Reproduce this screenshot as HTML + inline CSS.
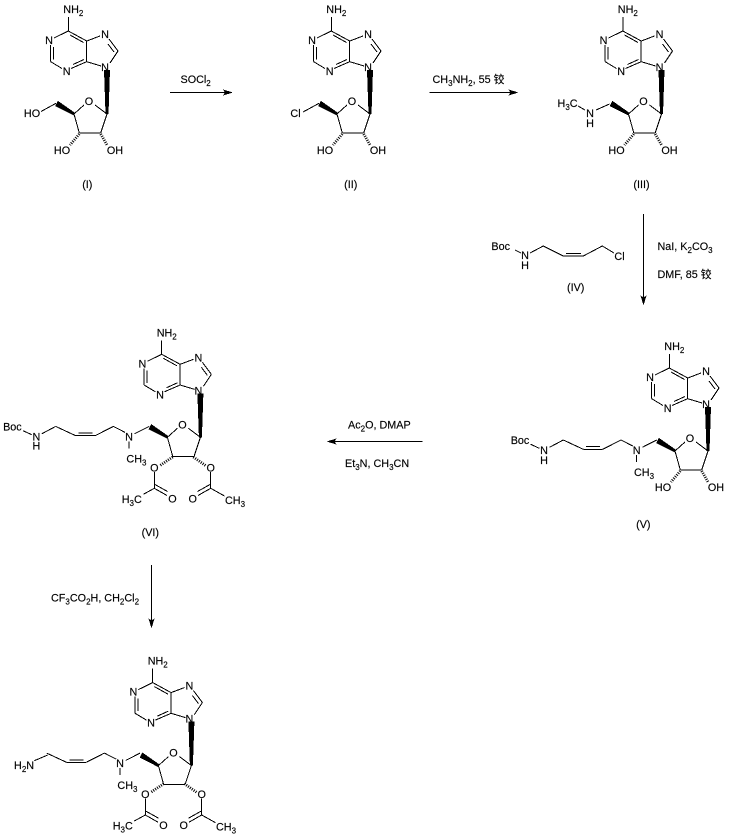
<!DOCTYPE html>
<html><head><meta charset="utf-8"><style>
html,body{margin:0;padding:0;background:#fff}
svg{display:block}
text{font-family:"Liberation Sans","Noto Sans CJK SC",sans-serif;font-size:10.8px;fill:#000;stroke:#000;stroke-width:.15}
.m{text-anchor:middle}
.s{font-size:8px}
line,polyline{stroke:#000;stroke-width:1;fill:none;shape-rendering:crispEdges}
polygon{fill:#000;stroke:none;shape-rendering:crispEdges}
line.h{stroke-width:2.8;stroke-dasharray:1 1.3;shape-rendering:auto}
</style></head><body>
<svg width="729" height="839" viewBox="0 0 729 839" xmlns="http://www.w3.org/2000/svg">
<defs>
<g id="core">
<line x1="68.3" y1="31" x2="68.3" y2="17"/>
<line x1="68.3" y1="31" x2="54" y2="38"/>
<line x1="50.7" y1="45" x2="50.7" y2="61.7"/>
<line x1="53.5" y1="47" x2="53.5" y2="59.5"/>
<line x1="50.7" y1="61.7" x2="62" y2="68.5"/>
<line x1="71" y1="68.5" x2="86.7" y2="61.7"/>
<line x1="73" y1="64.5" x2="84" y2="59.5"/>
<line x1="68.3" y1="31" x2="86.7" y2="41"/>
<line x1="70" y1="35" x2="83.5" y2="42.5"/>
<line x1="86.7" y1="41" x2="86.7" y2="61.7"/>
<line x1="86.7" y1="41" x2="100" y2="36"/>
<line x1="109" y1="39" x2="118" y2="51"/>
<line x1="108" y1="44" x2="114" y2="52"/>
<line x1="118" y1="51" x2="110" y2="63"/>
<line x1="101" y1="66" x2="86.7" y2="61.7"/>
<polygon points="105.5,114 108.5,114 110,70 104,70"/>
<line x1="107" y1="114" x2="95" y2="105"/>
<line x1="84" y1="105" x2="74" y2="114"/>
<line x1="74" y1="114" x2="79.3" y2="133"/>
<line x1="79.3" y1="133" x2="100.7" y2="133"/>
<line x1="100.7" y1="133" x2="107" y2="114"/>
<polygon points="74,115.5 74.5,112.5 57.8,100.8 55.2,106"/>
</g>
<g id="diol">
<line class="h" x1="79.3" y1="134" x2="70" y2="145"/>
<line class="h" x1="100.7" y1="134" x2="107" y2="145"/>
</g>
<g id="chainN">
<line x1="656.7" y1="440" x2="642.3" y2="447.3"/>
<line x1="632.7" y1="446" x2="621" y2="440"/>
<line x1="621" y1="440" x2="602.7" y2="449.3"/>
<line x1="602.7" y1="449.3" x2="583.3" y2="449.3"/>
<line x1="600" y1="446.7" x2="586" y2="446.7"/>
<line x1="583.3" y1="449.3" x2="563.3" y2="440"/>
<line x1="636.7" y1="455" x2="636.7" y2="462"/>
</g>
<g id="acet">
<line class="h" x1="172.7" y1="457" x2="160" y2="465.5"/>
<line class="h" x1="193.3" y1="457" x2="205.5" y2="465.5"/>
<line x1="154.3" y1="472" x2="154.3" y2="488.3"/>
<line x1="154.3" y1="488.3" x2="143.3" y2="494.3"/>
<line x1="154.3" y1="488.3" x2="167" y2="495.5"/>
<line x1="155" y1="484.5" x2="167.5" y2="491.5"/>
<line x1="210.7" y1="472" x2="210.7" y2="488.3"/>
<line x1="210.7" y1="488.3" x2="198" y2="495.5"/>
<line x1="210" y1="484.5" x2="197.5" y2="491.5"/>
<line x1="210.7" y1="488.3" x2="224.5" y2="496"/>
</g>
</defs>

<!-- I -->
<use href="#core"/><use href="#diol"/>
<g>
<text x="63.3" y="13">NH<tspan class="s" dy="3">2</tspan></text>
<text class="m" x="49" y="44">N</text><text class="m" x="66.7" y="75">N</text><text class="m" x="105" y="38">N</text><text class="m" x="105" y="71">N</text><text class="m" x="89" y="105">O</text>
<text class="m" x="62" y="154">HO</text><text class="m" x="115" y="154">OH</text>
<line x1="56" y1="103.3" x2="41" y2="111.5"/>
<text class="m" x="32" y="117">HO</text>
<text class="m" x="87.3" y="188">(I)</text>
</g>

<!-- Arrow 1 -->
<line x1="170" y1="92.5" x2="232" y2="92.5"/><polygon points="233,92.5 223,89.5 225,92.5 223,95.5"/>
<text x="180.5" y="83">SOCl<tspan class="s" dy="3">2</tspan></text>

<!-- II -->
<g transform="translate(263,0)"><use href="#core"/><use href="#diol"/>
<text x="63.3" y="13">NH<tspan class="s" dy="3">2</tspan></text>
<text class="m" x="49" y="44">N</text><text class="m" x="66.7" y="75">N</text><text class="m" x="105" y="38">N</text><text class="m" x="105" y="71">N</text><text class="m" x="89" y="105">O</text>
<text class="m" x="62" y="154">HO</text><text class="m" x="115" y="154">OH</text>
<line x1="56" y1="103.3" x2="40" y2="112"/>
<text class="m" x="32.5" y="117">Cl</text>
<text class="m" x="87.7" y="188">(II)</text>
</g>

<!-- Arrow 2 -->
<line x1="429.5" y1="92.5" x2="517" y2="92.5"/><polygon points="518.5,92.5 508.5,89.5 510.5,92.5 508.5,95.5"/>
<text x="432.5" y="83">CH<tspan class="s" dy="3">3</tspan><tspan dy="-3">NH</tspan><tspan class="s" dy="3">2</tspan><tspan dy="-3">, 55 铰</tspan></text>

<!-- III -->
<g transform="translate(554.5,0)"><use href="#core"/><use href="#diol"/>
<text x="63.3" y="13">NH<tspan class="s" dy="3">2</tspan></text>
<text class="m" x="49" y="44">N</text><text class="m" x="66.7" y="75">N</text><text class="m" x="105" y="38">N</text><text class="m" x="105" y="71">N</text><text class="m" x="89" y="105">O</text>
<text class="m" x="62" y="154">HO</text><text class="m" x="115" y="154">OH</text>
<line x1="55" y1="104" x2="41.5" y2="110"/>
<text class="m" x="35.5" y="117">N</text><text class="m" x="35.5" y="127">H</text>
<line x1="23.5" y1="106" x2="30.5" y2="110"/>
<text x="3" y="107">H<tspan class="s" dy="3">3</tspan><tspan dy="-3">C</tspan></text>
<text class="m" x="87" y="188">(III)</text>
</g>

<!-- IV -->
<text class="m" x="500.7" y="250">Boc</text>
<line x1="515" y1="250" x2="521" y2="253"/>
<text class="m" x="525" y="259">N</text><text class="m" x="525" y="269">H</text>
<polyline points="530,253 543.3,246 563.3,256 583.3,256 602.3,246 614,253"/>
<line x1="566" y1="253.5" x2="581" y2="253.5"/>
<text class="m" x="619.5" y="260">Cl</text>
<text class="m" x="575.7" y="291">(IV)</text>

<!-- Arrow 3 -->
<line x1="643.5" y1="214" x2="643.5" y2="304"/><polygon points="643.5,305.5 640.5,295.5 643.5,297.5 646.5,295.5"/>
<text x="657.5" y="250">NaI, K<tspan class="s" dy="3">2</tspan><tspan dy="-3">CO</tspan><tspan class="s" dy="3">3</tspan></text>
<text x="657.5" y="278">DMF, 85 铰</text>

<!-- V -->
<g transform="translate(601,337)"><use href="#core"/><use href="#diol"/>
<text x="63.3" y="13">NH<tspan class="s" dy="3">2</tspan></text>
<text class="m" x="49" y="44">N</text><text class="m" x="66.7" y="75">N</text><text class="m" x="105" y="38">N</text><text class="m" x="105" y="71">N</text><text class="m" x="89" y="105">O</text>
<text class="m" x="62" y="154">HO</text><text class="m" x="115" y="154">OH</text>
</g>
<use href="#chainN"/>
<line x1="563.3" y1="440" x2="549.5" y2="447.3"/>
<line x1="530.7" y1="444.3" x2="539.3" y2="448.3"/>
<text class="m" x="520" y="444">Boc</text>
<text class="m" x="544" y="454">N</text><text class="m" x="544" y="464">H</text>
<text class="m" x="636.7" y="454">N</text>
<text x="634" y="476">CH<tspan class="s" dy="3">3</tspan></text>
<text class="m" x="643.3" y="528">(V)</text>

<!-- Arrow 4 -->
<line x1="327.5" y1="441.5" x2="422.7" y2="441.5"/><polygon points="326.5,441.5 336.5,438.5 334.5,441.5 336.5,444.5"/>
<text x="348" y="428.5">Ac<tspan class="s" dy="3">2</tspan><tspan dy="-3">O, DMAP</tspan></text>
<text x="345" y="467">Et<tspan class="s" dy="3">3</tspan><tspan dy="-3">N, CH</tspan><tspan class="s" dy="3">3</tspan><tspan dy="-3">CN</tspan></text>

<!-- VI -->
<g transform="translate(93.4,323.3)"><use href="#core"/>
<text x="63.3" y="13">NH<tspan class="s" dy="3">2</tspan></text>
<text class="m" x="49" y="44">N</text><text class="m" x="66.7" y="75">N</text><text class="m" x="105" y="38">N</text><text class="m" x="105" y="71">N</text><text class="m" x="89" y="105">O</text>
</g>
<use href="#acet"/>
<text class="m" x="154.3" y="471.5">O</text><text class="m" x="210.7" y="471.5">O</text>
<text class="m" x="172.5" y="502.5">O</text><text class="m" x="192.7" y="502.5">O</text>
<text x="121.7" y="503">H<tspan class="s" dy="3">3</tspan><tspan dy="-3">C</tspan></text>
<text x="225" y="504">CH<tspan class="s" dy="3">3</tspan></text>
<g transform="translate(-507.6,-13.6)"><use href="#chainN"/>
<line x1="563.3" y1="440" x2="549.5" y2="447.3"/>
<line x1="530.7" y1="444.3" x2="539.3" y2="448.3"/>
<text class="m" x="520" y="444">Boc</text>
<text class="m" x="544" y="454">N</text><text class="m" x="544" y="463">H</text>
<text class="m" x="636.7" y="454">N</text>
<text x="634" y="476">CH<tspan class="s" dy="3">3</tspan></text>
</g>
<text class="m" x="150.3" y="536">(VI)</text>

<!-- Arrow 5 -->
<line x1="151.5" y1="565" x2="151.5" y2="627"/><polygon points="151.5,628.5 148.5,618.5 151.5,620.5 154.5,618.5"/>
<text x="51" y="601.5">CF<tspan class="s" dy="3">3</tspan><tspan dy="-3">CO</tspan><tspan class="s" dy="3">2</tspan><tspan dy="-3">H, CH</tspan><tspan class="s" dy="3">2</tspan><tspan dy="-3">Cl</tspan><tspan class="s" dy="3">2</tspan></text>

<!-- VII -->
<g transform="translate(84.4,651.6)"><use href="#core"/>
<text x="63.3" y="13">NH<tspan class="s" dy="3">2</tspan></text>
<text class="m" x="49" y="44">N</text><text class="m" x="66.7" y="75">N</text><text class="m" x="105" y="38">N</text><text class="m" x="105" y="71">N</text><text class="m" x="89" y="105">O</text>
</g>
<g transform="translate(-9,326.7)"><use href="#acet"/>
<text class="m" x="154.3" y="471.5">O</text><text class="m" x="210.7" y="471.5">O</text>
<text class="m" x="172.5" y="502.5">O</text><text class="m" x="192.7" y="502.5">O</text>
<text x="121.7" y="503">H<tspan class="s" dy="3">3</tspan><tspan dy="-3">C</tspan></text>
<text x="225" y="504">CH<tspan class="s" dy="3">3</tspan></text>
</g>
<g transform="translate(-516.6,313.1)"><use href="#chainN"/>
<text class="m" x="636.7" y="454">N</text>
<text x="634" y="476">CH<tspan class="s" dy="3">3</tspan></text>
</g>
<line x1="47.7" y1="755" x2="34.3" y2="760.7"/>
<text x="14" y="769">H<tspan class="s" dy="3">2</tspan><tspan dy="-3">N</tspan></text>
</svg>
</body></html>
